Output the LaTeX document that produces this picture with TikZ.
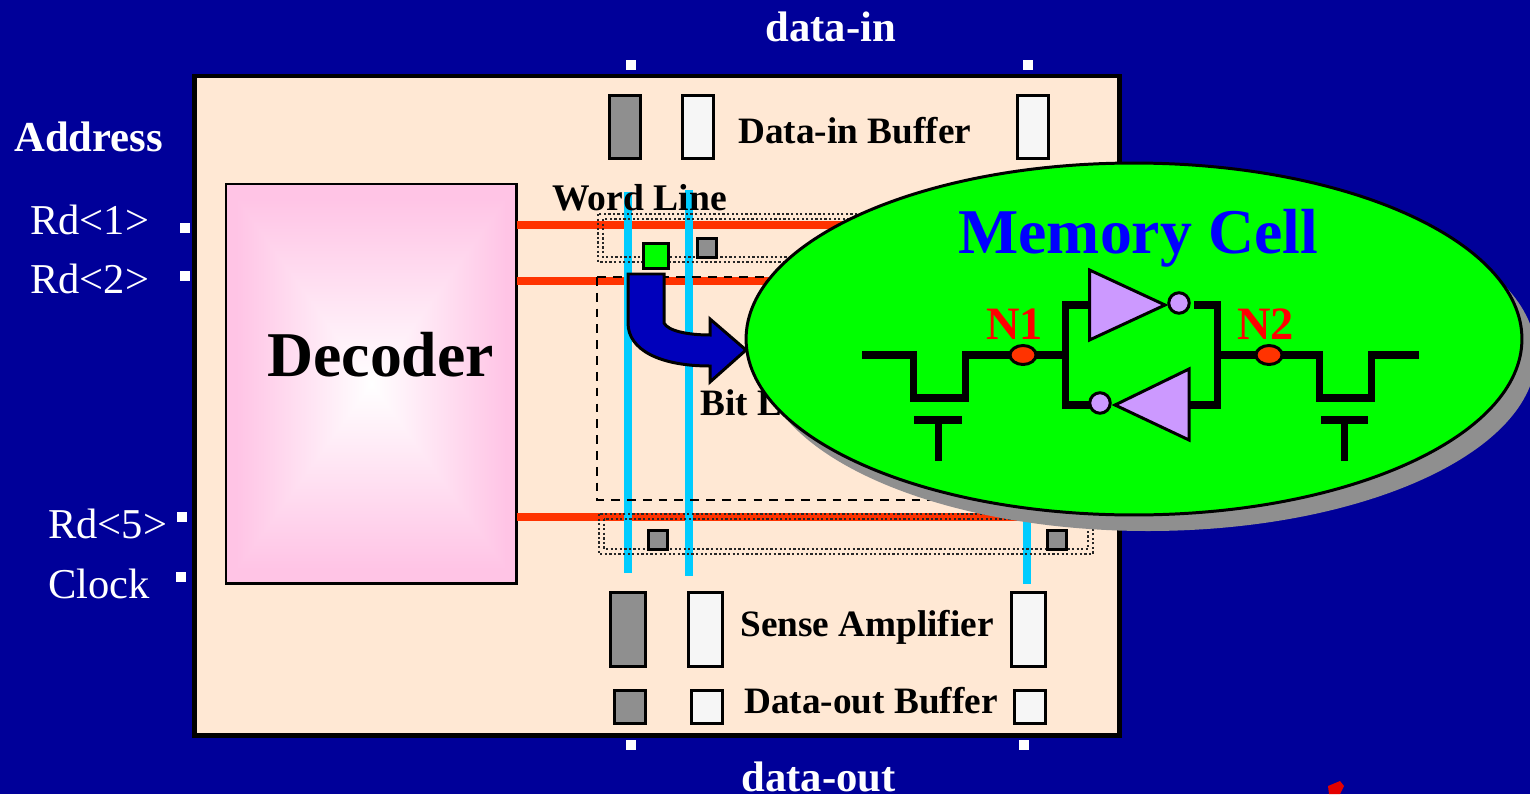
\documentclass[tikz,border=0pt]{standalone}
\usepackage{fontspec}
\setmainfont{Liberation Serif}
\usetikzlibrary{shapes.geometric}
\definecolor{bgBlue}{HTML}{000099}
\definecolor{chipTan}{HTML}{FFE8D4}
\definecolor{wordRed}{HTML}{FF3300}
\definecolor{bitBlue}{HTML}{00CCFF}
\definecolor{cellGreen}{HTML}{00FF00}
\definecolor{boxGray}{HTML}{8F8F8F}
\definecolor{boxWhite}{HTML}{F6F6F6}
\definecolor{arrowBlue}{HTML}{0000BB}
\definecolor{invLilac}{HTML}{CC99FF}
\pgfdeclarefunctionalshading{decoderGlow}{\pgfpoint{-50bp}{-50bp}}{\pgfpoint{50bp}{50bp}}{}{%
  abs exch abs 2 copy lt {exch} if pop 23 div dup 1 gt {pop 1} if
  dup 0.23 mul 1 exch sub exch 0.10 mul 1 exch sub 1 3 1 roll
}
\newcommand{\xyBox}[6]{%
  \node[#1,minimum width={(#5-#3-3)*0.02cm},minimum height={(#6-#4-3)*0.02cm}]
    (#2) at ({(#3+#5)/2},{(#4+#6)/2}) {};
}
\newcommand{\xyText}[5]{%
  \node[#1] (#2) at (#3,#4) {#5};
}
\newcommand{\xyPad}[3]{%
  \node[padStyle] (#1) at (#2,#3) {};
}
\begin{document}
\begin{tikzpicture}[%
  x=0.02cm,y=-0.02cm,
  boxStyle/.style={draw=black,line width=1.7pt,inner sep=0pt,outer sep=0pt},
  whiteBox/.style={boxStyle,fill=boxWhite},
  grayBox/.style={boxStyle,fill=boxGray},
  padStyle/.style={fill=white,inner sep=0pt,outer sep=0pt,minimum size=0.2cm},
  labelBold/.style={anchor=base west,inner sep=0pt,font=\bfseries\fontsize{21.2}{24}\selectfont},
  labelPin/.style={anchor=base west,inner sep=0pt,text=white,font=\fontsize{24.2}{28}\selectfont},
  labelPinBold/.style={labelPin,font=\bfseries\fontsize{24.3}{28}\selectfont},
  labelNet/.style={anchor=base west,inner sep=0pt,text=red,font=\bfseries\fontsize{26.4}{30}\selectfont},
  labelBig/.style={anchor=base west,inner sep=0pt,font=\bfseries\fontsize{36.3}{40}\selectfont},
  wordLine/.style={wordRed,line width=4.9pt},
  bitLine/.style={bitBlue,line width=4.9pt},
  dotStyle/.style={black!85,line width=1.3pt,dash pattern=on 1.3pt off 1.3pt},
  wireStyle/.style={black,line width=4pt,line cap=butt,line join=miter},
  invStyle/.style={draw=black,line width=1.7pt,fill=invLilac,line join=miter},
  bubbleStyle/.style={draw=black,line width=1.7pt,fill=invLilac,circle,inner sep=0pt,minimum size=0.41cm},
  netDot/.style={draw=black,line width=1.7pt,fill=wordRed,ellipse,inner sep=0pt,minimum width=0.52cm,minimum height=0.38cm}
]
\useasboundingbox (0,0) rectangle (1530,794);
\fill[bgBlue] (0,0) rectangle (1530,794);
\fill[red!90!black] (1328,786) -- (1340,781) -- (1344,786) -- (1340,794) -- (1329,794) -- cycle;
%
% The chip and the decoder.
\xyBox{boxStyle,fill=chipTan,line width=2.8pt}{chip}{193}{74.5}{1121}{737}
\xyBox{boxStyle,shading=decoderGlow}{decoder}{224.5}{182.5}{518}{585}
\xyText{labelBig}{decoderText}{267}{376}{Decoder}
%
% Pins around the chip.
\xyPad{padInL}{631}{65}
\xyPad{padInR}{1028}{65}
\xyPad{padOutL}{631}{745}
\xyPad{padOutR}{1024}{745}
\xyPad{padRdOne}{185}{228}
\xyPad{padRdTwo}{185}{276}
\xyPad{padRdFive}{182}{517}
\xyPad{padClock}{181}{577}
\xyText{labelPinBold}{dataIn}{765}{42}{data-in}
\xyText{labelPinBold}{dataOut}{741}{791}{data-out}
\xyText{labelPinBold}{address}{14}{151}{Address}
\xyText{labelPin}{rdOne}{30}{234}{Rd<1>}
\xyText{labelPin}{rdTwo}{30}{293}{Rd<2>}
\xyText{labelPin}{rdFive}{48}{538}{Rd<5>}
\xyText{labelPin}{clock}{48}{598}{Clock}
%
% Buffers and amplifiers.
\xyBox{grayBox}{inBufA}{608}{94}{642}{160}
\xyBox{whiteBox}{inBufB}{681}{94}{715}{160}
\xyBox{whiteBox}{inBufC}{1016}{94}{1050}{160}
\xyText{labelBold}{inBufText}{738}{143}{Data-in Buffer}
\xyBox{grayBox}{senseA}{609}{591}{647}{668}
\xyBox{whiteBox}{senseB}{687}{591}{724}{668}
\xyBox{whiteBox}{senseC}{1010}{591}{1047}{668}
\xyText{labelBold}{senseText}{740}{636}{Sense Amplifier}
\xyBox{grayBox}{outBufA}{613}{689}{647}{725}
\xyBox{whiteBox}{outBufB}{690}{689}{724}{725}
\xyBox{whiteBox}{outBufC}{1013}{689}{1047}{725}
\xyText{labelBold}{outBufText}{744}{713}{Data-out Buffer}
%
% Word lines and bit lines.
\coordinate (wordOneEnd) at (1100,225);
\coordinate (wordTwoEnd) at (1100,281);
\coordinate (wordFiveEnd) at (1100,517);
\draw[wordLine] (decoder.east |- wordOneEnd) -- (wordOneEnd);
\draw[wordLine] (decoder.east |- wordTwoEnd) -- (wordTwoEnd);
\draw[wordLine] (decoder.east |- wordFiveEnd) -- (wordFiveEnd);
\coordinate (bitOneTop) at (628,192);
\coordinate (bitOneEnd) at (628,573);
\coordinate (bitTwoTop) at (689,190);
\coordinate (bitTwoEnd) at (689,576);
\coordinate (bitThreeTop) at (1027,190);
\coordinate (bitThreeEnd) at (1027,584);
\draw[bitLine] (bitOneTop) -- (bitOneEnd);
\draw[bitLine] (bitTwoTop) -- (bitTwoEnd);
\draw[bitLine] (bitThreeTop) -- (bitThreeEnd);
\xyText{labelBold,font=\bfseries\fontsize{21.4}{24}\selectfont}{wordText}{552}{210}{Word Line}
\xyText{labelBold}{bitText}{700}{415}{Bit Line}
%
% Selected rows.
\draw[dotStyle] (598,214) rectangle (1093,262);
\draw[dotStyle] (603,219) rectangle (1088,257);
\draw[dotStyle] (599,514) rectangle (1093,554);
\draw[dotStyle] (604,519) rectangle (1088,549);
\draw[black,line width=1.5pt,dash pattern=on 5pt off 4pt] (597,277) rectangle (1090,500);
%
% Small cells.
\xyBox{boxStyle,fill=cellGreen}{cellMark}{642}{242}{670}{270}
\xyBox{grayBox}{cellTop}{696}{237}{718}{259}
\xyBox{grayBox}{cellLowA}{647}{529}{669}{551}
\xyBox{grayBox}{cellLowB}{1046}{529}{1068}{551}
%
% The zoom arrow.
\draw[black,line width=1.7pt,fill=arrowBlue,line join=miter] (628,274) -- (664,274) -- (664,323)
  .. controls (668,331) and (688,335) .. (710,335) -- (710,319) -- (746,350) -- (710,382) -- (710,366)
  .. controls (660,366) and (628,350) .. (628,323) -- cycle;
%
% The blown-up memory cell.
\fill[boxGray] (1148,355) ellipse[x radius=388,y radius=176];
\node[draw=black,line width=1.7pt,fill=cellGreen,ellipse,inner sep=0pt,outer sep=0pt,
  minimum width=15.52cm,minimum height=7.04cm] (cell) at (1134,339) {};
\xyText{labelBig,text=blue}{cellText}{958}{253}{Memory Cell}
\xyText{labelNet}{netOneText}{986}{339}{N1}
\xyText{labelNet}{netTwoText}{1237}{339}{N2}
%
% Access transistors and the storage loop.
\coordinate (bitLeft) at (862,355);
\coordinate (bitRight) at (1419,355);
\coordinate (loopLeft) at (1065,355);
\coordinate (loopRight) at (1217,355);
\draw[wireStyle] (bitLeft) -- (913,355) -- (913,398) -- (965,398) -- (965,355) -- (loopLeft);
\draw[wireStyle] (loopRight) -- (1319,355) -- (1319,398) -- (1371,398) -- (1371,355) -- (bitRight);
\draw[wireStyle] (914,420) -- (962,420) (938,420) -- (938,461);
\draw[wireStyle] (1321,420) -- (1368,420) (1344,420) -- (1344,461);
\draw[wireStyle] (1089,305) -- (1065,305) -- (1065,405) -- (1090,405);
\draw[wireStyle] (1194,305) -- (1217,305) -- (1217,405) -- (1189,405);
%
\draw[invStyle] (1089.5,270) -- (1165,305) -- (1089.5,340) -- cycle;
\draw[invStyle] (1189,369) -- (1115,405) -- (1189,440) -- cycle;
\node[bubbleStyle] (bubbleTop) at (1179,303) {};
\node[bubbleStyle] (bubbleLow) at (1100,403) {};
\node[netDot] (netOne) at (1023,355) {};
\node[netDot] (netTwo) at (1269,355) {};
\end{tikzpicture}
\end{document}
